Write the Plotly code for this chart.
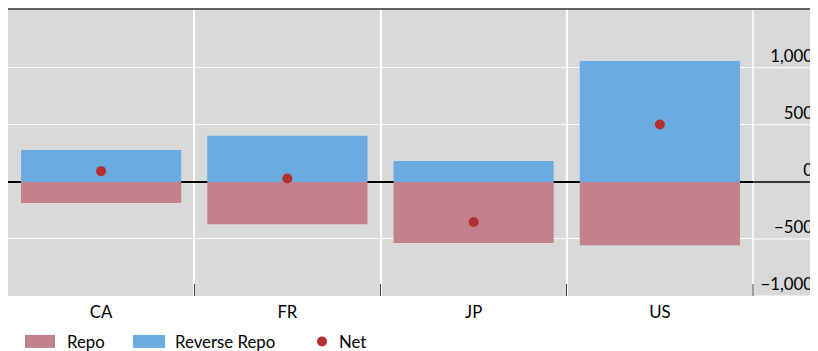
import plotly.graph_objects as go

categories = ["CA", "FR", "JP", "US"]
series_names = ["Repo", "Reverse Repo", "Net"]
repo = [-186, -372, -535, -556]
reverse_repo = [280, 405, 183, 1059]
net = [94, 30, -352, 503]
y_ticks = [-1000, -500, 0, 500, 1000]

REPO_C = "#C3808D"
RR_C = "#6AACE0"
NET_C = "#B3302E"
BG = "#D9D9D9"
FONT = "Lato"
FS = 16.8

OFF = 8  # page body margin
W, H = 818 - OFF, 351 - OFF
ML, MR, MT, MB = 0, 0, 1, 54.5
PW, PH = W - ML - MR, H - MT - MB
XDOM = (753 - OFF - ML) / PW


def px_x(p):
    return (p - OFF - ML) / PW


def px_y(p):
    return (H - MB - (p - OFF)) / PH


fig = go.Figure()
fig.add_trace(go.Bar(x=categories, y=repo, name=series_names[0],
                     marker=dict(color=REPO_C, line=dict(width=0)), width=0.86))
fig.add_trace(go.Bar(x=categories, y=reverse_repo, name=series_names[1],
                     marker=dict(color=RR_C, line=dict(width=0)), width=0.86))
fig.add_trace(go.Scatter(x=categories, y=net, name=series_names[2], mode="markers",
                         marker=dict(color=NET_C, size=10, line=dict(width=0))))

fig.update_layout(
    width=W, height=H,
    margin=dict(l=ML, r=MR, t=MT, b=MB, pad=0),
    paper_bgcolor="white", plot_bgcolor=BG,
    barmode="relative",
    font=dict(family=FONT, size=FS, color="black"),
    showlegend=False,
)
fig.update_xaxes(
    type="category", range=[-0.5, 3.5], domain=[0, XDOM], automargin=False,
    tickson="boundaries", ticks="inside", ticklen=12, tickcolor="#444", tickwidth=1,
    showgrid=True, gridcolor="white", gridwidth=1.5,
    showline=False, zeroline=False, ticklabelstandoff=4,
)
fig.update_yaxes(
    range=[-1000, 1515], tickvals=y_ticks, tickformat=",",
    anchor="free", position=1, side="left", automargin=False,
    ticklabelshift=-12, ticklabelstandoff=5,
    showgrid=True, gridcolor="white", gridwidth=1,
    zeroline=True, zerolinecolor="black", zerolinewidth=1.5,
    showline=False, ticks="",
)

# grey extension of plot area under the value labels
fig.add_shape(type="rect", xref="paper", yref="paper", x0=XDOM, x1=1, y0=0, y1=1,
              fillcolor=BG, line=dict(width=0), layer="below")
for v in y_ticks:
    if v == 0:
        continue
    fig.add_shape(type="line", xref="paper", yref="y", x0=XDOM, x1=1, y0=v, y1=v,
                  line=dict(color="white", width=1), layer="below")
fig.add_shape(type="line", xref="paper", yref="y", x0=XDOM, x1=1, y0=0, y1=0,
              line=dict(color="black", width=1.5))
fig.add_shape(type="line", xref="paper", yref="paper", x0=XDOM, x1=XDOM, y0=0, y1=1,
              line=dict(color="white", width=1.5), layer="below")
fig.add_shape(type="line", xref="paper", yref="paper", x0=XDOM, x1=XDOM, y0=0, y1=12 / PH,
              line=dict(color="#444", width=1))
fig.add_shape(type="line", xref="paper", yref="paper", x0=0, x1=1, y0=1, y1=1,
              line=dict(color="#333333", width=1.5))

# legend
leg_y = 342
swatches = [(25, 55, REPO_C, 65), (133, 165, RR_C, 173)]
for (a, b, c, tx), name in zip(swatches, series_names[:2]):
    fig.add_shape(type="rect", xref="paper", yref="paper",
                  x0=px_x(a), x1=px_x(b), y0=px_y(leg_y + 6.5), y1=px_y(leg_y - 6.5),
                  fillcolor=c, line=dict(width=0))
    fig.add_annotation(xref="paper", yref="paper", x=px_x(tx), y=px_y(leg_y),
                       text=name, showarrow=False, xanchor="left", yanchor="middle",
                       font=dict(size=FS))
fig.add_shape(type="circle", xref="paper", yref="paper",
              x0=px_x(317), x1=px_x(327), y0=px_y(leg_y + 5), y1=px_y(leg_y - 5),
              fillcolor=NET_C, line=dict(width=0))
fig.add_annotation(xref="paper", yref="paper", x=px_x(337), y=px_y(leg_y),
                   text=series_names[2], showarrow=False, xanchor="left", yanchor="middle",
                   font=dict(size=FS))

fig.write_html("out.html")
